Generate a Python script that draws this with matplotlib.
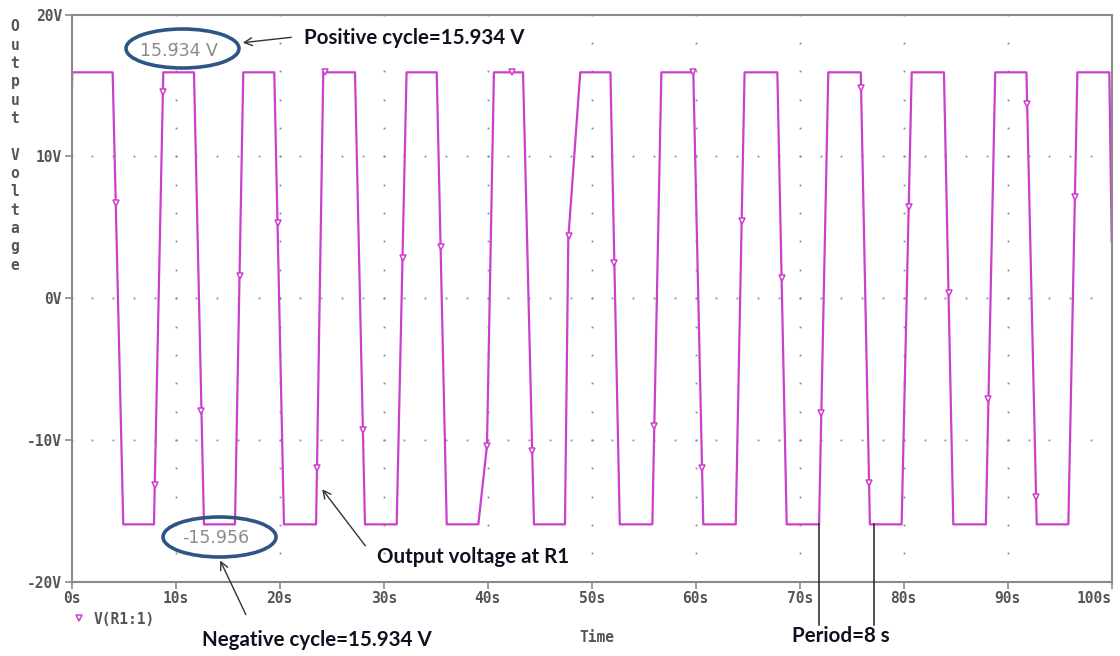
import numpy as np
import matplotlib
matplotlib.use("Agg")
from matplotlib import pyplot as plt
from matplotlib.patches import Ellipse

# waveform levels (V)
v_high = 15.934
v_low = -15.956
v_start = 13.4
v_end = 4.0

# edge times (s)
high_start = [0.05, 8.81, 16.5, 24.19, 32.2, 40.6, 48.9, 56.7, 64.7, 72.75, 80.77, 88.8, 96.7]
high_end = [3.94, 11.76, 19.48, 27.24, 35.1, 43.4, 51.8, 59.77, 67.85, 75.87, 83.87, 91.8, 99.77]
low_start = [4.96, 12.72, 20.41, 28.2, 36.06, 44.45, 52.7, 60.73, 68.75, 76.75, 84.77, 92.79]
low_end = [7.91, 15.7, 23.5, 31.25, 39.1, 47.43, 55.83, 63.85, 71.86, 79.8, 87.9, 95.83]
# bends on the two slow rising edges
knee_t = [39.93, 47.75]
knee_v = [-10.4, 4.2]

# probe marker times along the trace
marker_t = [4.235, 7.988, 8.77, 12.48, 16.14, 19.79, 23.586, 24.4, 28.0, 31.81,
            35.47, 39.93, 42.3, 44.28, 47.77, 52.18, 56.02, 59.75, 60.61, 64.42,
            68.26, 72.08, 75.90, 76.67, 80.48, 84.31, 88.15, 91.87, 92.73, 96.46]

y_ticks = [-20, -10, 0, 10, 20]
y_labels = ["-20V", "-10V", "0V", "10V", "20V"]
x_ticks = list(range(0, 101, 10))
x_labels = [f"{v}s" for v in x_ticks]

# build trace
pts = [(0.0, v_start)]
for i in range(len(high_start)):
    pts.append((high_start[i], v_high))
    pts.append((high_end[i], v_high))
    if i < len(low_start):
        pts.append((low_start[i], v_low))
        pts.append((low_end[i], v_low))
pts += list(zip(knee_t, knee_v))
pts.append((100.0, v_end))
pts.sort()
t = np.array([p[0] for p in pts])
v = np.array([p[1] for p in pts])

trace_col = "#cc3fcc"
axis_col = "#8a8a8a"
lab_col = "#555555"
mono = {"family": "DejaVu Sans Mono", "weight": "bold", "color": lab_col}

fig = plt.figure(figsize=(11.2, 6.56), dpi=100)
ax = fig.add_axes([0.064, 0.1133, 0.9286, 0.8643])

# dotted grid
gx = np.arange(0, 100.1, 2)
gy = np.arange(-20, 20.1, 2)
for yy in [-10, 0, 10]:
    ax.plot(gx, np.full_like(gx, yy, dtype=float), ls="none", marker="s", ms=1.3,
            mew=0, color="#8c8c8c")
for xx in range(10, 100, 10):
    ax.plot(np.full_like(gy, xx, dtype=float), gy, ls="none", marker="s", ms=1.3,
            mew=0, color="#8c8c8c")

ax.plot(t, v, color=trace_col, lw=1.6)
ax.plot(marker_t, np.interp(marker_t, t, v), ls="none", marker="v", ms=5,
        mfc="white", mec=trace_col, mew=1.1, label="V(R1:1)")

ax.set_xlim(0, 100)
ax.set_ylim(-20, 20)
ax.set_yticks(y_ticks, labels=y_labels)
ax.set_xticks(x_ticks, labels=x_labels)
ax.tick_params(length=5, width=1.2, color=axis_col, pad=2, labelsize=10.5)
for lab in ax.get_xticklabels() + ax.get_yticklabels():
    lab.set_fontfamily("DejaVu Sans Mono")
    lab.set_fontweight("bold")
    lab.set_color(lab_col)
ax.get_xticklabels()[-1].set_ha("right")
for s in ax.spines.values():
    s.set_color(axis_col)
    s.set_linewidth(1.5)

ax.legend(loc="center left", bbox_to_anchor=(0.001, -0.066), frameon=False,
          handlelength=0.8, handletextpad=0.6, borderpad=0, borderaxespad=0,
          prop={"family": "DejaVu Sans Mono", "weight": "bold", "size": 10.5},
          labelcolor=lab_col)

fig.text(15 / 1120, 1 - 146 / 656, "\n".join("Output Voltage"), ha="center",
         va="center", fontsize=10.5, linespacing=1.28, **mono)
fig.text(597 / 1120, 1 - 637 / 656, "Time", ha="center", va="center",
         fontsize=10.5, **mono)

# annotations
note = {"family": "Lato", "weight": "bold", "size": 14.8, "color": "#101020"}
val = {"family": "DejaVu Sans", "size": 12.5, "color": "#8a8a8a"}
ell_col = "#2f5585"


def px(x, y):
    # figure pixel -> figure fraction
    return (x / 1120, 1 - y / 656)


fig.patches.append(Ellipse(px(182.5, 48.5), 113 / 1120, 39 / 656, fill=False,
                           ec=ell_col, lw=2.6, transform=fig.transFigure))
fig.text(*px(179, 51), "15.934 V", ha="center", va="center", **val)
fig.patches.append(Ellipse(px(219.5, 537), 113 / 1120, 40 / 656, fill=False,
                           ec=ell_col, lw=2.6, transform=fig.transFigure))
fig.text(*px(216, 538), "-15.956", ha="center", va="center", **val)

arrow = dict(arrowstyle="->", color="#333333", lw=1.0, mutation_scale=14)
fig.text(*px(304, 38), "Positive cycle=15.934 V", ha="left", va="center", **note)
ax.annotate("", xy=px(240, 43), xytext=px(294, 37), xycoords="figure fraction",
            textcoords="figure fraction", arrowprops=arrow)
fig.text(*px(202, 640), "Negative cycle=15.934 V", ha="left", va="center", **note)
ax.annotate("", xy=px(219, 558), xytext=px(247, 617), xycoords="figure fraction",
            textcoords="figure fraction", arrowprops=arrow)
fig.text(*px(377, 557), "Output voltage at R1", ha="left", va="center", **note)
ax.annotate("", xy=px(320.5, 487), xytext=px(367, 548), xycoords="figure fraction",
            textcoords="figure fraction", arrowprops=arrow)
fig.text(*px(792, 636), "Period=8 s", ha="left", va="center", **note)
for xp in [819, 874]:
    fig.lines.append(plt.Line2D([xp / 1120, xp / 1120], [1 - 524 / 656, 1 - 625 / 656],
                                color="#222222", lw=1.1, transform=fig.transFigure))

fig.savefig("out.png", dpi=100)
